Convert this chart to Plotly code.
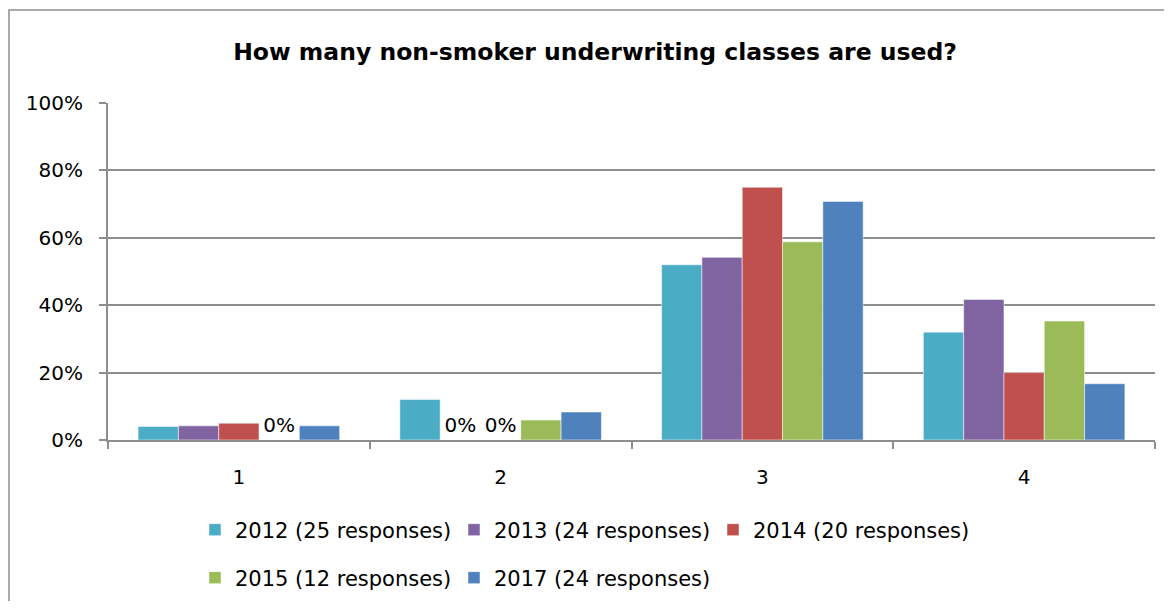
"""Non-smoker underwriting classes chart"""

import plotly.graph_objects as go

categories = ["1", "2", "3", "4"]

series_names = [
    "2012 (25 responses)",
    "2013 (24 responses)",
    "2014 (20 responses)",
    "2015 (12 responses)",
    "2017 (24 responses)",
]

values_2012 = [0.04, 0.12, 0.52, 0.32]
values_2013 = [0.042, 0.0, 0.542, 0.417]
values_2014 = [0.05, 0.0, 0.75, 0.20]
values_2015 = [0.0, 0.059, 0.588, 0.353]
values_2017 = [0.042, 0.083, 0.708, 0.167]

colors = ["#4BACC6", "#8064A2", "#C0504D", "#9BBB59", "#4F81BD"]

FONT = "DejaVu Sans"

# page has an 8px body margin, so the figure is sized to fit inside it
W, H = 1156, 593
L, T = 100, 95          # plot area left / top inside the figure
PW, PH = 1047, 337      # plot area size

fig = go.Figure()

all_values = [values_2012, values_2013, values_2014, values_2015, values_2017]
for i, (name, vals, color) in enumerate(zip(series_names, all_values, colors)):
    # only zero bars get a "0%" label, like the original
    labels = ["0%" if v == 0 else "" for v in vals]
    fig.add_trace(
        go.Bar(
            x=categories,
            y=vals,
            name=name,
            marker=dict(color=color, line=dict(color="rgba(255,255,255,0.5)", width=1)),
            text=labels,
            textposition="outside",
            textfont=dict(family=FONT, size=20, color="#000000"),
            cliponaxis=False,
            legend="legend" if i < 3 else "legend2",
        )
    )

legend_style = dict(
    orientation="h",
    xref="container",
    yref="container",
    x=187 / W,
    xanchor="left",
    yanchor="middle",
    font=dict(family=FONT, size=21, color="#000000"),
    entrywidth=214,
    bgcolor="rgba(0,0,0,0)",
)

fig.update_layout(
    width=W,
    height=H,
    margin=dict(l=L, r=W - L - PW, t=T, b=H - T - PH),
    paper_bgcolor="white",
    plot_bgcolor="white",
    barmode="group",
    bargap=0.23,
    bargroupgap=0,
    title=dict(
        text="<b>How many non-smoker underwriting classes are used?</b>",
        font=dict(family=FONT, size=23.5, color="#000000"),
        x=587 / W,
        xref="container",
        xanchor="center",
        y=1 - 44 / H,
        yref="container",
        yanchor="middle",
    ),
    legend=dict(legend_style, y=1 - 522 / H),
    legend2=dict(legend_style, y=1 - 570 / H),
    font=dict(family=FONT, color="#000000"),
)

fig.update_yaxes(
    range=[0, 1],
    dtick=0.2,
    tickformat=".0%",
    showgrid=True,
    gridcolor="#8e8e8e",
    gridwidth=2,
    showline=True,
    linecolor="#8e8e8e",
    linewidth=2,
    ticks="outside",
    ticklen=7,
    tickcolor="#8e8e8e",
    tickwidth=2,
    ticklabelstandoff=12,
    tickfont=dict(family=FONT, size=20, color="#000000"),
    zeroline=False,
)

fig.update_xaxes(
    type="category",
    showline=True,
    linecolor="#8e8e8e",
    linewidth=2,
    ticks="outside",
    tickson="boundaries",
    ticklen=7,
    tickcolor="#8e8e8e",
    tickwidth=2,
    ticklabelstandoff=18,
    tickfont=dict(family=FONT, size=20, color="#000000"),
)

# outer chart frame (left/top edges sit near the figure edge)
fig.add_shape(
    type="rect",
    xref="paper",
    yref="paper",
    x0=(1 - L) / PW,
    x1=(W + 20 - L) / PW,
    y0=(T + PH - H - 20) / PH,
    y1=(T + PH - 2) / PH,
    line=dict(color="#8e8e8e", width=1.5),
    fillcolor="rgba(0,0,0,0)",
    layer="below",
)

fig.write_html("out.html")
